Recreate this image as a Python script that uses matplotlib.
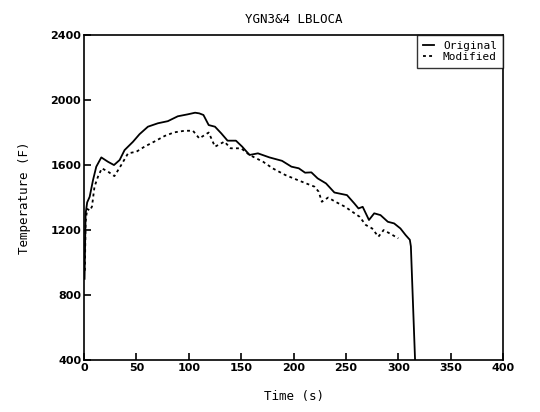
import matplotlib
matplotlib.use("Agg")
import matplotlib.pyplot as plt

# Original case (solid)
t_orig = [0.5, 1.0, 1.5, 3, 5.4, 8.6, 11.7, 16.5, 22.9, 28.6, 34, 38.7, 46.7, 53, 61,
          70.5, 80, 89.5, 99, 106, 110, 114, 119, 125, 131, 137, 145, 151, 158, 166,
          177, 189, 198, 205, 211, 217, 223, 231, 239, 251, 258, 262, 266, 272, 277,
          283, 290, 296, 302, 307, 311, 312, 316]
T_orig = [900, 1100, 1300, 1370, 1405, 1508, 1590, 1647, 1620, 1600, 1631, 1692, 1743, 1790, 1836,
          1857, 1870, 1900, 1912, 1922, 1918, 1908, 1846, 1836, 1795, 1750, 1750, 1713, 1662, 1672,
          1647, 1626, 1590, 1580, 1553, 1555, 1518, 1487, 1431, 1415, 1364, 1333, 1343, 1262, 1303,
          1292, 1251, 1241, 1210, 1169, 1140, 1100, 400]

# Modified case (dotted)
t_mod = [0.8, 1.5, 3, 5.7, 7.6, 10, 13.3, 17, 23, 29, 35.5, 42, 50, 57.7, 67, 77, 86, 96,
         104, 110, 119, 125, 134, 140, 150, 158, 171, 180, 192, 203, 212, 220, 224, 227,
         233, 240, 249, 256, 263, 269, 275, 281, 286, 293, 300]
T_mod = [950, 1250, 1330, 1320, 1345, 1467, 1528, 1580, 1559, 1532, 1600, 1672, 1682, 1713, 1744, 1779, 1801, 1811,
         1811, 1764, 1800, 1713, 1744, 1703, 1703, 1662, 1620, 1580, 1539, 1510, 1487, 1467, 1436, 1374,
         1400, 1374, 1344, 1313, 1282, 1231, 1210, 1159, 1200, 1175, 1149]

x_ticks = [0, 50, 100, 150, 200, 250, 300, 350, 400]
y_ticks = [400, 800, 1200, 1600, 2000, 2400]

mono = "DejaVu Sans Mono"

fig = plt.figure(figsize=(5.4, 4.12), dpi=100)
ax = fig.add_axes([0.1556, 0.126, 0.776, 0.789])

ax.plot(t_orig, T_orig, color="black", lw=1.3, label="Original")
ax.plot(t_mod, T_mod, color="black", lw=1.3, linestyle=(0, (1.6, 1.8)), label="Modified")

ax.set_xlim(0, 400)
ax.set_ylim(400, 2400)
ax.set_xticks(x_ticks)
ax.set_yticks(y_ticks)
ax.tick_params(direction="in", length=5, width=1.2, labelsize=8, pad=2, top=False, right=False)
for lab in ax.get_xticklabels() + ax.get_yticklabels():
    lab.set_fontweight("bold")
for s in ax.spines.values():
    s.set_linewidth(1.2)

ax.set_title("YGN3&4 LBLOCA", fontsize=9, family=mono, pad=9)
ax.set_xlabel("Time (s)", fontsize=9, family=mono, labelpad=12)
ax.set_ylabel("Temperature (F)", fontsize=9, family=mono, labelpad=14)

leg = ax.legend(loc="upper right", borderaxespad=0, fancybox=False, edgecolor="black",
                prop={"family": mono, "size": 8}, handlelength=1.0, handletextpad=0.8,
                labelspacing=0.1, borderpad=0.55)
leg.get_frame().set_linewidth(1.0)

fig.savefig("out.png", dpi=100)
